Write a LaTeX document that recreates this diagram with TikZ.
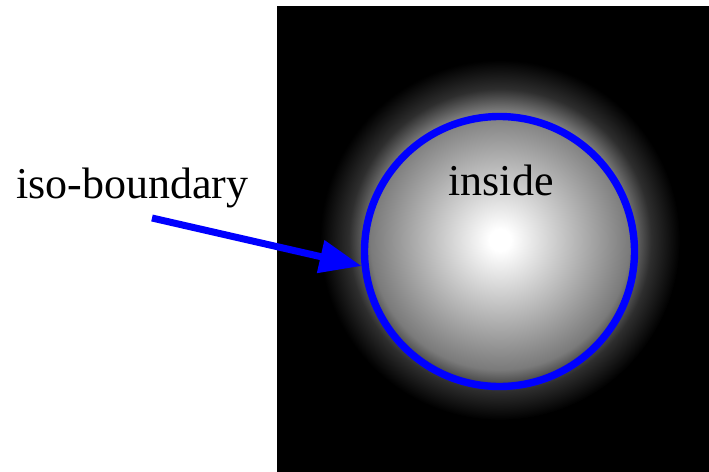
\documentclass[tikz,border=0pt]{standalone}
\usepackage{fontspec}
\setmainfont{Liberation Serif}
\usepackage{xcolor}
\usepackage{tikz}
\usetikzlibrary{arrows.meta,positioning}
\definecolor{cbound}{HTML}{0000FF}
\definecolor{cback}{HTML}{000000}
\pgfdeclareradialshading{glow}{\pgfpoint{0bp}{0bp}}{%
  color(0bp)=(white); color(1.5bp)=(white); color(18bp)=(black!52);
  color(21bp)=(black!82); color(25bp)=(black); color(50bp)=(black)}

\begin{document}
\begin{tikzpicture}[
    x=0.5pt, y=-0.5pt,
    bound/.style={circle, draw=cbound, line width=3.7pt, minimum size=135pt, inner sep=0pt},
    lbl/.style={inner sep=0pt, font=\fontsize{22pt}{24pt}\selectfont},
    arr/.style={-{Triangle[length=21pt,width=16pt]}, line width=3.5pt, draw=cbound}
]
\useasboundingbox (0,0) rectangle (709,472);
\fill[white] (0,0) rectangle (709,472);
\fill[cback] (277,6) rectangle (709,472);
\shade[shading=glow] (500,240) circle (180);
\node[bound] (bound) at (499.5,251.5) {};
\node[lbl, anchor=base] (inside) at (501,195) {inside};
\node[lbl, anchor=base] (iso) at (132.5,198) {iso-boundary};
\coordinate (start) at (152,218);
\draw[arr] (start) -- (bound.186);
\end{tikzpicture}
\end{document}
